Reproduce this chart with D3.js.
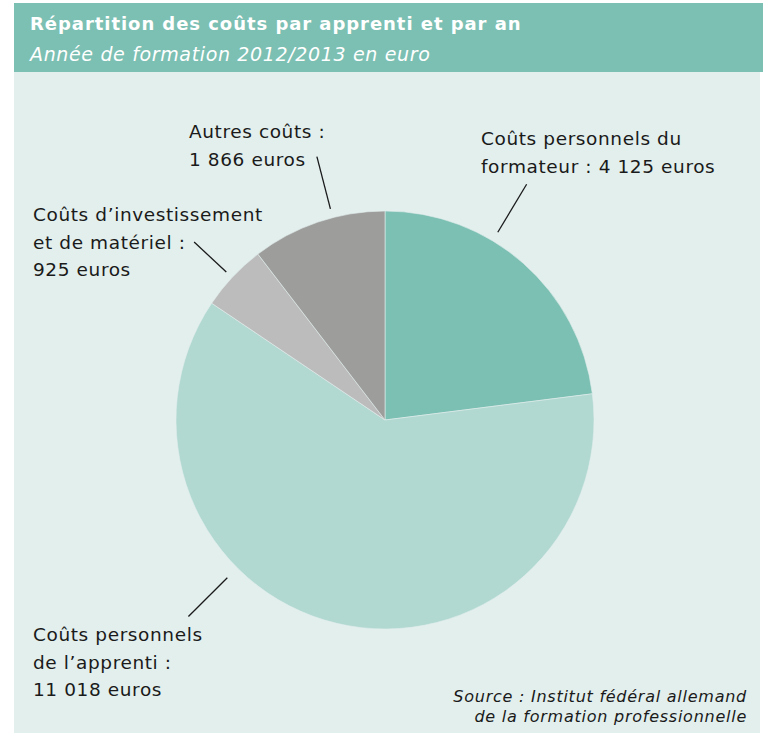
<!DOCTYPE html>
<html lang="fr">
<head>
<meta charset="utf-8">
<script src="https://cdn.jsdelivr.net/npm/d3@7.9.0/dist/d3.min.js"></script>
<style>
	html, body { margin: 0; padding: 0; background: #fff; }
	svg { display: block; font-family: 'DejaVu Sans', Verdana, sans-serif; }
</style>
</head>
<body>
<svg id="chart" width="763" height="733"></svg>
<script>
// Data (clockwise from 12 o'clock)
const categories = ['formateur', 'apprenti', 'investissement', 'autres'];
const values = [4125, 11018, 925, 1866];
const labelLines = [
	['Coûts personnels du', 'formateur : 4 125 euros'],
	['Coûts personnels', 'de l’apprenti :', '11 018 euros'],
	['Coûts d’investissement', 'et de matériel :', '925 euros'],
	['Autres coûts :', '1 866 euros'],
];

const colors = ['#7cbfb3', '#b1d8d1', '#bcbcbc', '#9d9d9c'];

// label placement (layout only)
const labelPos = [
	{ x: 481, y: 145 },
	{ x: 33, y: 641 },
	{ x: 33, y: 221 },
	{ x: 189, y: 138 },
];
// leader line angle (degrees from top, clockwise) and radii
const leaderAngle = [31, 225, -47, -14.5];
const leaderR = [[219, 275], [223, 278], [217, 261], [218, 272]];

const width = 763, height = 733;
const cx = 385, cy = 420, radius = 209;

const svg = d3.select('#chart');

// panel background
svg.append('rect').attr('x', 14).attr('y', 72).attr('width', 746).attr('height', height - 72).attr('fill', '#e2efed');
// header band
svg.append('rect').attr('x', 14).attr('y', 3).attr('width', width - 14).attr('height', 69).attr('fill', '#7cbfb3');

svg.append('text')
	.attr('x', 30).attr('y', 30)
	.attr('fill', '#fff').attr('font-weight', 'bold').attr('font-size', 18)
	.attr('letter-spacing', 0.95)
	.text('Répartition des coûts par apprenti et par an');
svg.append('text')
	.attr('x', 30).attr('y', 61)
	.attr('fill', '#fff').attr('font-style', 'italic').attr('font-size', 19)
	.attr('letter-spacing', 0.65)
	.text('Année de formation 2012/2013 en euro');

// pie
const pie = d3.pie().sort(null).value((d) => d);
const arcGen = d3.arc().innerRadius(0).outerRadius(radius);
const arcData = pie(values);

const g = svg.append('g').attr('transform', `translate(${cx},${cy})`);
g.selectAll('path')
	.data(arcData)
	.join('path')
	.attr('d', arcGen)
	.attr('fill', (d, i) => colors[i])
	.attr('stroke', '#e2efed')
	.attr('stroke-width', 0.6);

// leader lines
const rad = (a) => (a * Math.PI) / 180;
g.selectAll('line.leader')
	.data(categories)
	.join('line')
	.attr('class', 'leader')
	.attr('x1', (d, i) => Math.sin(rad(leaderAngle[i])) * leaderR[i][0])
	.attr('y1', (d, i) => -Math.cos(rad(leaderAngle[i])) * leaderR[i][0])
	.attr('x2', (d, i) => Math.sin(rad(leaderAngle[i])) * leaderR[i][1])
	.attr('y2', (d, i) => -Math.cos(rad(leaderAngle[i])) * leaderR[i][1])
	.attr('stroke', '#1a1a1a')
	.attr('stroke-width', 1.3);

// labels
categories.forEach((c, i) => {
	const t = svg.append('text')
		.attr('x', labelPos[i].x).attr('y', labelPos[i].y)
		.attr('font-size', 18.5).attr('letter-spacing', 0.6).attr('fill', '#1a1a1a');
	labelLines[i].forEach((line, j) => {
		t.append('tspan')
			.attr('x', labelPos[i].x)
			.attr('dy', j === 0 ? 0 : 27.5)
			.text(line);
	});
});

// source
const src = svg.append('text')
	.attr('x', 747).attr('y', 702)
	.attr('text-anchor', 'end')
	.attr('font-size', 16).attr('letter-spacing', 0.75)
	.attr('font-style', 'italic').attr('fill', '#1a1a1a');
src.append('tspan').attr('x', 747).attr('dy', 0).text('Source : Institut fédéral allemand');
src.append('tspan').attr('x', 747).attr('dy', 20).text('de la formation professionnelle');
</script>
</body>
</html>
